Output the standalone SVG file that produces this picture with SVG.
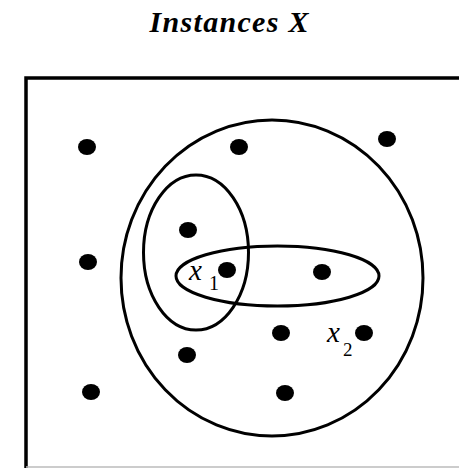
<svg xmlns="http://www.w3.org/2000/svg" width="459" height="468" viewBox="0 0 459 468">
<style>
.set{fill:none;stroke:#000;stroke-width:3}
.dot{fill:#000}
.lbl{font-family:"Liberation Serif",serif;font-style:italic;fill:#000}
.sub{font-family:"Liberation Serif",serif;fill:#000}
</style>
<rect width="459" height="468" fill="#fff"/>
<text x="229" y="32" text-anchor="middle" font-family="Liberation Serif, serif" font-weight="bold" font-style="italic" font-size="30" textLength="159" fill="#000">Instances X</text>
<g id="frame">
<path d="M26 468 V78 H459" fill="none" stroke="#000" stroke-width="3.5"/>
<line x1="26" y1="467" x2="459" y2="467" stroke="#bbb" stroke-width="1.5"/>
</g>
<g id="sets">
<ellipse id="big" class="set" cx="272" cy="278" rx="151" ry="158"/>
<ellipse id="tall" class="set" cx="196" cy="252.5" rx="52.5" ry="77.5"/>
<ellipse id="wide" class="set" cx="277.5" cy="276" rx="101.5" ry="30"/>
</g>
<g id="dots">
<ellipse class="dot" cx="87" cy="147" rx="9" ry="8"/>
<ellipse class="dot" cx="239" cy="147" rx="9" ry="8"/>
<ellipse class="dot" cx="387" cy="139" rx="9" ry="8"/>
<ellipse class="dot" cx="188" cy="230" rx="9" ry="8"/>
<ellipse class="dot" cx="88" cy="262" rx="9" ry="8"/>
<ellipse class="dot" cx="227" cy="270" rx="9" ry="8"/>
<ellipse class="dot" cx="322" cy="272" rx="9" ry="8"/>
<ellipse class="dot" cx="281" cy="333" rx="9" ry="8"/>
<ellipse class="dot" cx="364" cy="333" rx="9" ry="8"/>
<ellipse class="dot" cx="187" cy="355" rx="9" ry="8"/>
<ellipse class="dot" cx="91" cy="392" rx="9" ry="8"/>
<ellipse class="dot" cx="285" cy="393" rx="9" ry="8"/>
</g>
<g id="x1">
<text class="lbl" x="189" y="280" font-size="29" textLength="18">x</text>
<text class="sub" x="209" y="290" font-size="20">1</text>
</g>
<g id="x2">
<text class="lbl" x="327" y="342" font-size="29" textLength="18">x</text>
<text class="sub" x="343" y="356" font-size="19">2</text>
</g>
</svg>
